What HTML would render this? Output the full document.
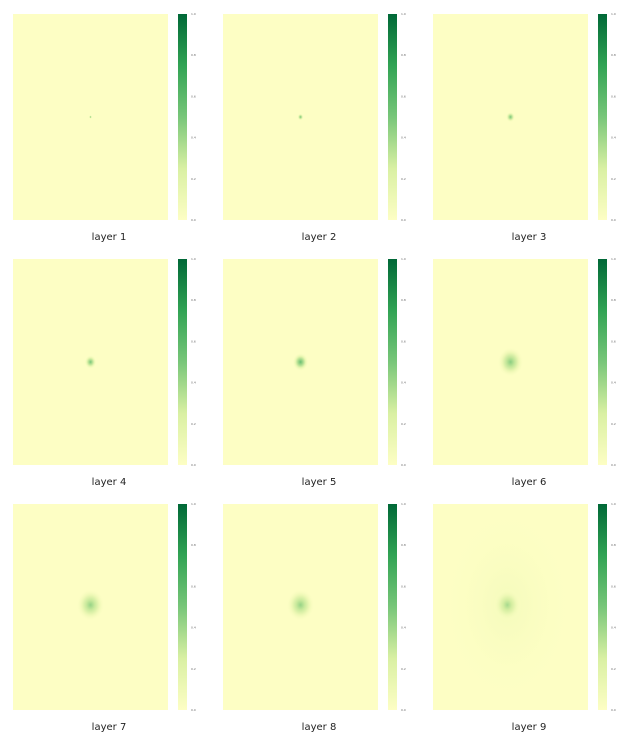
<!DOCTYPE html>
<html><head><meta charset="utf-8">
<style>
body{margin:0;background:#fff;width:640px;height:745px;overflow:hidden;font-family:"DejaVu Sans","Liberation Sans",sans-serif;}
svg{display:block}
</style></head>
<body>
<svg id="fig" width="640" height="745"></svg>
<script>
const layers=["layer 1","layer 2","layer 3","layer 4","layer 5","layer 6","layer 7","layer 8","layer 9"];
const blobRadius=[1.5,3,4.5,6,8,13,14,14,14];
const blobPeak=[0.5,0.5,0.5,0.5,0.55,0.45,0.42,0.42,0.38];
const blobX=[0.5,0.5,0.5,0.5,0.5,0.5,0.5,0.5,0.48];
const blobY=[0.5,0.5,0.5,0.5,0.5,0.5,0.49,0.49,0.49];
const diffuse=[0,0,0,0,0,0,0,0,0.06];
const ticks=[0.0,0.2,0.4,0.6,0.8,1.0];
const cmap=[[0,"#fdfec4"],[0.25,"#d9f0a3"],[0.5,"#78c679"],[0.75,"#31a354"],[1,"#006837"]];
function col(v){for(let i=1;i<cmap.length;i++){if(v<=cmap[i][0]){const a=cmap[i-1],b=cmap[i],t=(v-a[0])/(b[0]-a[0]);const p=h=>[1,3,5].map(k=>parseInt(h.substr(k,2),16));const c1=p(a[1]),c2=p(b[1]);return "rgb("+c1.map((c,j)=>Math.round(c+(c2[j]-c)*t)).join(",")+")";}}return cmap[cmap.length-1][1];}
const NS="http://www.w3.org/2000/svg";
const svg=document.getElementById("fig");
function el(tag,attrs,parent){const e=document.createElementNS(NS,tag);for(const k in attrs)e.setAttribute(k,attrs[k]);(parent||svg).appendChild(e);return e;}
const defs=el("defs",{});
const W=155,H=206;
layers.forEach((name,i)=>{
  const x0=13+(i%3)*210, y0=14+Math.floor(i/3)*245;
  const g=el("g",{});
  
  
  const bg=el("rect",{x:x0,y:y0,width:W,height:H,fill:col(0)},g);
  
  
  if(diffuse[i]>0){
    const gd=el("radialGradient",{id:"d"+i},defs);
    el("stop",{offset:"0","stop-color":col(diffuse[i])},gd);
    el("stop",{offset:"1","stop-color":col(0),"stop-opacity":"0"},gd);
    const d=el("ellipse",{cx:x0+W*blobX[i],cy:y0+H*blobY[i],rx:W*0.45,ry:H*0.5,fill:"url(#d"+i+")"},g);
    
    
  }
  const gr=el("radialGradient",{id:"b"+i},defs);
  [[0,1],[0.3,0.7],[0.6,0.3],[1,0]].forEach(([o,f])=>el("stop",{offset:o,"stop-color":col(blobPeak[i]*f),"stop-opacity":o==1?0:1},gr));
  const b=el("ellipse",{cx:x0+W*blobX[i],cy:y0+H*blobY[i],rx:blobRadius[i],ry:blobRadius[i]*1.15,fill:"url(#b"+i+")"},g);
  
  
  const t=el("text",{x:x0+96,y:y0+H+20,"font-size":"10","text-anchor":"middle",fill:"#222"},g);
  t.textContent=name;
  
  
  const cx=x0+165;
  const lg=el("linearGradient",{id:"c"+i,x1:0,y1:1,x2:0,y2:0},defs);
  cmap.forEach(([o,c])=>el("stop",{offset:o,"stop-color":c},lg));
  const cb=el("rect",{x:cx,y:y0,width:9,height:H,fill:"url(#c"+i+")"},g);
  
  
  ticks.forEach(v=>{
    const tt=el("text",{x:cx+13,y:y0+H-v*H+1,"font-size":"3",fill:"#666"},g);
    tt.textContent=v.toFixed(1);
    
    
  });
});
</script>
</body></html>
